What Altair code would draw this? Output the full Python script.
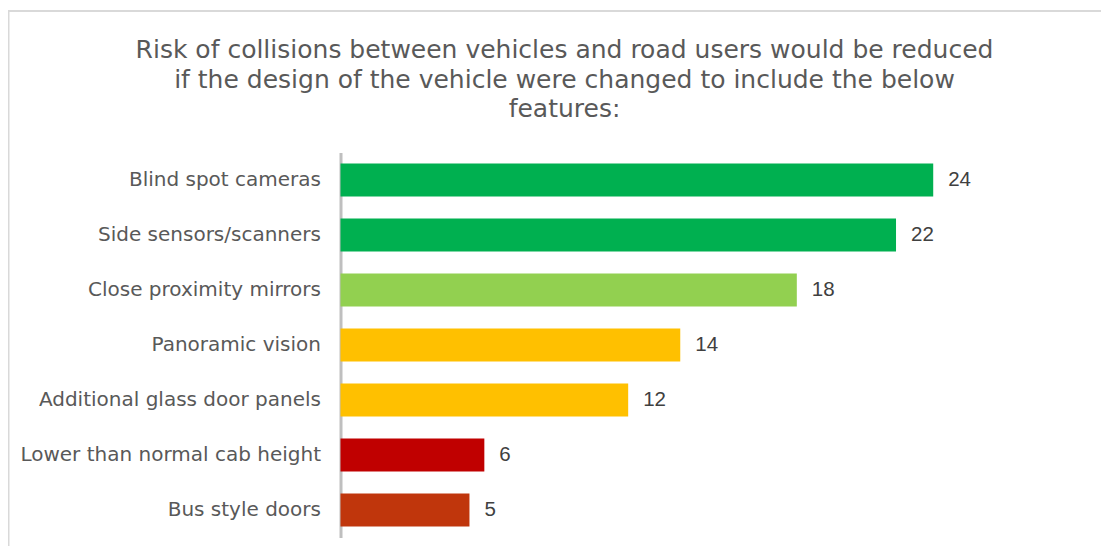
import altair as alt
import pandas as pd

categories = [
    "Blind spot cameras",
    "Side sensors/scanners",
    "Close proximity mirrors",
    "Panoramic vision",
    "Additional glass door panels",
    "Lower than normal cab height",
    "Bus style doors",
]
values = [23.9, 22.4, 18.4, 13.7, 11.6, 5.8, 5.2]
colors = ["#00B050", "#00B050", "#92D050", "#FFC000", "#FFC000", "#C00000", "#C0360C"]
title_lines = [
    "Risk of collisions between vehicles and road users would be reduced",
    "if the design of the vehicle were changed to include the below",
    "features:",
]

df = pd.DataFrame({"feature": categories, "pct": values})

y = alt.Y(
    "feature:N",
    sort=categories,
    title=None,
    scale=alt.Scale(paddingInner=0.4, paddingOuter=0.2),
    axis=alt.Axis(
        labelFont="DejaVu Sans",
        labelFontSize=20,
        labelColor="#595959",
        labelPadding=20,
        ticks=False,
        domainColor="#bfbfbf",
        domainWidth=3,
        labelLimit=400,
        grid=False,
    ),
)
x = alt.X("pct:Q", title=None, scale=alt.Scale(domain=[0, 30], nice=False, zero=True), axis=None)

bars = alt.Chart(df).mark_bar().encode(
    x=x,
    y=y,
    color=alt.Color("feature:N", scale=alt.Scale(domain=categories, range=colors), legend=None),
)

labels = alt.Chart(df).mark_text(
    align="left", baseline="middle", dx=15, font="Liberation Sans", fontSize=20.5, color="#404040"
).encode(
    x=x,
    y=y,
    text=alt.Text("pct:Q", format=".0f"),
)

border_data = alt.Data(values=[{"k": 0}])
top_border = alt.Chart(border_data).mark_rule(color="#d9d9d9", strokeWidth=2).encode(
    x=alt.value(-333), x2=alt.value(800), y=alt.value(-141.5)
)
left_border = alt.Chart(border_data).mark_rule(color="#d9d9d9", strokeWidth=2).encode(
    x=alt.value(-332), y=alt.value(-142.5), y2=alt.value(420)
)

chart = alt.layer(top_border, left_border, bars, labels).properties(
    width=744,
    height=385,
    padding={"left": 332.5, "top": 144.5, "right": 16, "bottom": 8},
    autosize=alt.AutoSizeParams(type="none"),
    title=alt.TitleParams(
        text=title_lines,
        font="DejaVu Sans",
        fontSize=25,
        fontWeight="normal",
        color="#595959",
        anchor="middle",
        frame="group",
        baseline="top",
        dx=-148,
        dy=113,
        offset=0,
        lineHeight=29.5,
    ),
).configure_view(stroke=None)

chart.save("out.html", embed_options={"renderer": "svg", "actions": False})
